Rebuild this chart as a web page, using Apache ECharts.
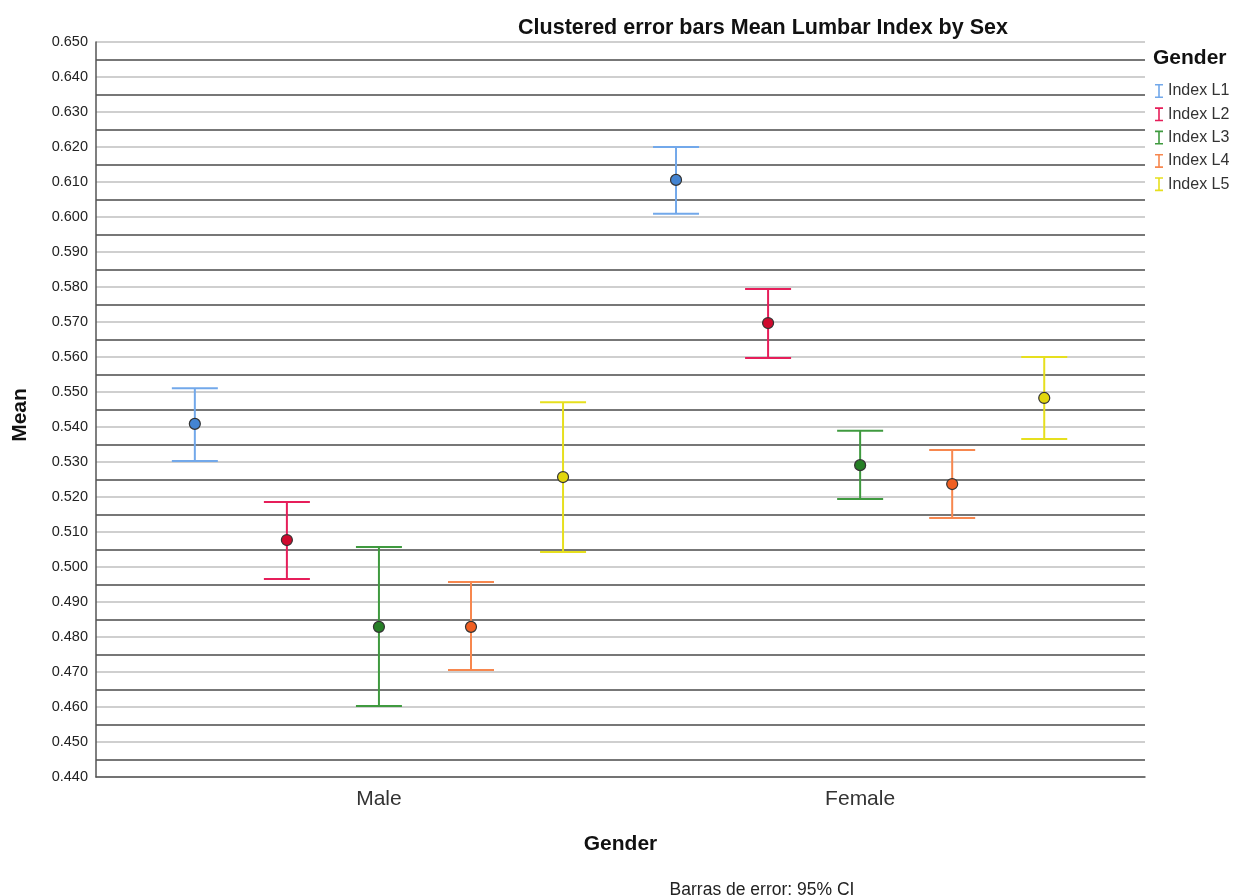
<!DOCTYPE html>
<html>
<head>
<meta charset="utf-8">
<script src="https://cdn.jsdelivr.net/npm/echarts@6/dist/echarts.min.js"></script>
<style>
html,body{margin:0;padding:0;background:#fff;}
#chart{width:1245px;height:895px;}
</style>
</head>
<body>
<div id="chart"></div>
<script>
const categories = ['Male', 'Female'];
const seriesNames = ['Index L1', 'Index L2', 'Index L3', 'Index L4', 'Index L5'];
const yTicks = ['0.440','0.450','0.460','0.470','0.480','0.490','0.500','0.510','0.520','0.530','0.540','0.550','0.560','0.570','0.580','0.590','0.600','0.610','0.620','0.630','0.640','0.650'];

const meanL1 = [0.5409, 0.6106];
const lowL1  = [0.5303, 0.6009];
const highL1 = [0.5511, 0.6200];

const meanL2 = [0.5077, 0.5697];
const lowL2  = [0.4966, 0.5597];
const highL2 = [0.5186, 0.5794];

const meanL3 = [0.4829, 0.5291];
const lowL3  = [0.4603, 0.5194];
const highL3 = [0.5057, 0.5389];

const meanL4 = [0.4829, 0.5237];
const lowL4  = [0.4706, 0.5140];
const highL4 = [0.4957, 0.5334];

const meanL5 = [0.5257, 0.5483];
const lowL5  = [0.5043, 0.5366];
const highL5 = [0.5471, 0.5600];

const means = [meanL1, meanL2, meanL3, meanL4, meanL5];
const lows = [lowL1, lowL2, lowL3, lowL4, lowL5];
const highs = [highL1, highL2, highL3, highL4, highL5];

const lineColors = ['#72a8ea', '#e61e5a', '#3f9a3f', '#f7874e', '#e6df1e'];
const dotColors  = ['#4384d2', '#cf0a2e', '#267f26', '#f05f22', '#e2d60c'];

const clusterStep = 0.1913;
const capHalf = 23;
const FONT = 'Liberation Sans, Arial, sans-serif';

const chart = echarts.init(document.getElementById('chart'), null, {renderer: 'canvas'});

const series = [];
seriesNames.forEach((name, i) => {
  const off = (i - 2) * clusterStep;
  const errData = categories.map((c, k) => [k + off, lows[i][k], highs[i][k]]);
  series.push({
    name: name,
    type: 'custom',
    data: errData,
    z: 3,
    renderItem: function (params, api) {
      const x = api.value(0);
      const lo = api.coord([x, api.value(1)]);
      const hi = api.coord([x, api.value(2)]);
      const style = {stroke: lineColors[i], lineWidth: 2, fill: null};
      return {
        type: 'group',
        children: [
          {type: 'line', shape: {x1: lo[0], y1: lo[1], x2: hi[0], y2: hi[1]}, style: style},
          {type: 'line', shape: {x1: hi[0] - capHalf, y1: hi[1], x2: hi[0] + capHalf, y2: hi[1]}, style: style},
          {type: 'line', shape: {x1: lo[0] - capHalf, y1: lo[1], x2: lo[0] + capHalf, y2: lo[1]}, style: style}
        ]
      };
    }
  });
  series.push({
    name: name,
    type: 'scatter',
    data: categories.map((c, k) => [k + off, means[i][k]]),
    symbol: 'circle',
    symbolSize: 11,
    z: 4,
    itemStyle: {color: dotColors[i], borderColor: '#333', borderWidth: 1.2, opacity: 1}
  });
});

const iIcon = 'path://M0,0H8V1.6H4.8V12.4H8V14H0V12.4H3.2V1.6H0Z';

const option = {
  backgroundColor: '#fff',
  animation: false,
  title: [
    {text: 'Clustered error bars Mean Lumbar Index by Sex', left: 758, top: 12, textAlign: 'center',
     textStyle: {fontFamily: FONT, fontSize: 21.5, fontWeight: 'bold', color: '#111'}},
    {text: 'Barras de error: 95% CI', left: 757, top: 876, textAlign: 'center',
     textStyle: {fontFamily: FONT, fontSize: 17.5, fontWeight: 'normal', color: '#222'}}
  ],
  legend: {
    orient: 'vertical',
    left: 1150,
    top: 78,
    itemWidth: 8,
    itemHeight: 14,
    itemGap: 7.3,
    textStyle: {fontFamily: FONT, fontSize: 16, color: '#333'},
    data: seriesNames.map((n, i) => ({name: n, icon: iIcon, itemStyle: {color: lineColors[i]}}))
  },
  graphic: [
    {type: 'text', left: 1153, top: 48, style: {text: 'Gender', fontFamily: FONT, fontSize: 21, fontWeight: 'bold', fill: '#111'}},
    {type: 'text', x: 20, y: 415, rotation: Math.PI / 2, style: {text: 'Mean', fontFamily: FONT, fontSize: 21, fontWeight: 'bold', fill: '#111', align: 'center', verticalAlign: 'middle'}}
  ],
  grid: {left: 96, right: 100, top: 42, bottom: 118, containLabel: false},
  xAxis: {
    type: 'value',
    min: -0.588,
    max: 1.592,
    name: 'Gender',
    nameLocation: 'middle',
    nameGap: 57,
    nameTextStyle: {fontFamily: FONT, fontSize: 21, fontWeight: 'bold', color: '#111'},
    axisLine: {show: true, onZero: false, lineStyle: {color: '#555', width: 1.5}},
    axisTick: {show: false},
    splitLine: {show: false},
    axisLabel: {
      show: true,
      customValues: [0, 1],
      margin: 12,
      fontFamily: FONT,
      fontSize: 21,
      color: '#333',
      formatter: function (v) { return categories[Math.round(v)] || ''; }
    }
  },
  yAxis: {
    type: 'value',
    min: 0.44,
    max: 0.65,
    interval: 0.01,
    axisLine: {show: true, onZero: false, lineStyle: {color: '#555', width: 1.5}},
    axisTick: {show: false},
    axisLabel: {
      margin: 8,
      fontFamily: FONT,
      fontSize: 14.5,
      color: '#222',
      formatter: function (v) {
        const idx = Math.round((v - 0.44) / 0.01);
        return yTicks[idx] !== undefined ? yTicks[idx] : v.toFixed(3);
      }
    },
    splitLine: {show: true, lineStyle: {color: '#cfcfcf', width: 2}},
    minorTick: {show: false, splitNumber: 2},
    minorSplitLine: {show: true, lineStyle: {color: '#4a4a4a', width: 1.6}}
  },
  series: series
};
chart.setOption(option);
</script>
</body>
</html>
